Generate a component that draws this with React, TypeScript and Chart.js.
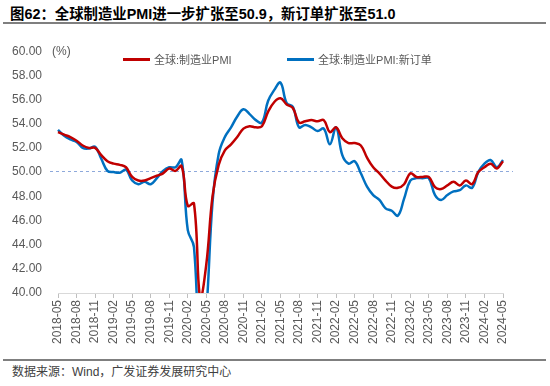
import React, { useEffect, useRef } from "react";
import { Chart, registerables } from "chart.js";

Chart.register(...registerables);

const months: string[] = [];
for (let y = 2018, m = 5; y < 2024 || (y === 2024 && m <= 5); ) {
  months.push(`${y}-${String(m).padStart(2, "0")}`);
  m++;
  if (m > 12) { m = 1; y++; }
}

const pmi = [
  53.3, 53.1, 52.9, 52.6, 52.2, 52.0, 52.0, 51.4, 50.9, 50.7, 50.6, 50.4,
  49.6, 49.3, 49.3, 49.5, 49.7, 49.9, 50.3, 50.1, 50.5,
  47.2, 47.4, 39.6, 42.4, 48.0, 50.6, 51.8, 52.3, 52.9, 53.6, 53.8,
  53.7, 53.8, 55.0, 55.8, 56.1, 55.6, 55.3, 54.1, 54.2, 54.3, 54.2, 54.3,
  53.3, 53.7, 52.8, 52.4, 52.4, 52.2, 51.2, 50.4, 49.9, 49.3, 48.8, 48.7,
  49.0, 49.9, 49.6, 49.6, 49.6, 48.75, 48.6, 48.9, 49.2, 48.9, 49.3, 49.0,
  50.0, 50.4, 50.7, 50.3, 50.9,
];

const newOrders = [
  53.5, 53.0, 52.7, 52.5, 52.0, 51.95, 52.1, 51.1, 50.1, 50.0, 49.95, 50.2,
  49.3, 49.0, 49.2, 49.0, 49.5, 50.1, 50.4, 50.4, 51.0,
  45.2, 43.8, 34.0, 38.5, 47.5, 51.5, 52.9, 53.7, 54.6, 55.2, 54.8,
  54.3, 54.1, 55.9, 56.8, 57.4, 55.7, 55.4, 53.7, 53.9, 53.7, 53.4, 53.6,
  52.3, 53.7, 51.4, 50.7, 50.9, 49.9, 48.8, 48.1, 47.7, 47.0, 46.8, 46.4,
  47.8, 49.3, 49.5, 49.5, 49.5, 48.1, 47.7, 48.1, 48.4, 48.5, 48.9, 48.7,
  50.0, 50.7, 51.0, 50.4, 51.0,
];

const seriesNames = ["全球:制造业PMI", "全球:制造业PMI:新订单"];
const seriesColors = ["#C00000", "#0070C0"];
const refValue = 50.1;
const yMin = 40;
const yMax = 60;
const yStep = 2;

const FONT = "'Liberation Sans', Arial, 'Noto Sans CJK SC', sans-serif";

const refLinePlugin = {
  id: "refLine",
  beforeDatasetsDraw(chart: any) {
    const { ctx, chartArea, scales } = chart;
    const y = scales.y.getPixelForValue(refValue);
    ctx.save();
    ctx.strokeStyle = "#8EA9DB";
    ctx.lineWidth = 1;
    ctx.setLineDash([3, 3]);
    ctx.beginPath();
    ctx.moveTo(chartArea.left - 8, Math.round(y) + 0.5);
    ctx.lineTo(chartArea.right + 10, Math.round(y) + 0.5);
    ctx.stroke();
    ctx.restore();
  },
};

export default function App() {
  const ref = useRef<HTMLCanvasElement | null>(null);
  useEffect(() => {
    if (!ref.current) return;
    const chart = new Chart(ref.current, {
      type: "line",
      data: {
        labels: months,
        datasets: [
          {
            label: seriesNames[0],
            data: pmi,
            borderColor: seriesColors[0],
            backgroundColor: seriesColors[0],
            borderWidth: 2.5,
            pointRadius: 0,
            tension: 0.4,
          },
          {
            label: seriesNames[1],
            data: newOrders,
            borderColor: seriesColors[1],
            backgroundColor: seriesColors[1],
            borderWidth: 2.5,
            pointRadius: 0,
            tension: 0.4,
          },
        ],
      },
      options: {
        responsive: false,
        animation: false,
        layout: { padding: { top: 10, right: 17, left: 0, bottom: 0 } },
        plugins: { legend: { display: false }, tooltip: { enabled: false } },
        scales: {
          x: {
            offset: false,
            border: { display: true, color: "#D9D9D9", width: 1 },
            grid: {
              display: true,
              drawOnChartArea: false,
              drawTicks: true,
              tickLength: 5,
              color: (c: any) => (c.index % 3 === 0 ? "#BFBFBF" : "rgba(0,0,0,0)"),
            },
            ticks: {
              autoSkip: false,
              minRotation: 90,
              maxRotation: 90,
              padding: 2,
              color: "#595959",
              font: { family: FONT, size: 12 },
              callback: (_v: any, i: number) => (i % 3 === 0 ? months[i] : ""),
            },
            afterFit: (s: any) => { s.height = 57; },
          },
          y: {
            min: yMin,
            max: yMax,
            border: { display: false },
            grid: { display: false, drawTicks: false },
            ticks: {
              stepSize: yStep,
              padding: 16,
              color: "#595959",
              font: { family: FONT, size: 12 },
              callback: (v: any) => Number(v).toFixed(2),
            },
            afterFit: (s: any) => { s.width = 58; },
          },
        },
      },
      plugins: [refLinePlugin],
    });
    return () => chart.destroy();
  }, []);

  const text = "'Liberation Sans', Arial, 'Noto Sans CJK SC', sans-serif";
  return (
    <div style={{ position: "absolute", left: 0, top: 0, width: 550, height: 386, background: "#fff", fontFamily: text, overflow: "hidden" }}>
      <canvas ref={ref} width={520} height={322} style={{ position: "absolute", left: 0, top: 28, width: 520, height: 322 }} />
      <div style={{ position: "absolute", left: 10, top: 5, fontSize: 14.4, fontWeight: "bold", color: "#000", whiteSpace: "nowrap", lineHeight: "18px" }}>
        图62：全球制造业PMI进一步扩张至50.9，新订单扩张至51.0
      </div>
      <div style={{ position: "absolute", left: 3, top: 22, width: 543, height: 2, background: "#7F7F7F" }} />
      <div style={{ position: "absolute", left: 52, top: 43, fontSize: 12, color: "#595959", whiteSpace: "nowrap", lineHeight: "16px" }}>(%)</div>
      <div style={{ position: "absolute", left: 123, top: 58, width: 27, height: 3, background: seriesColors[0] }} />
      <div style={{ position: "absolute", left: 154, top: 52, fontSize: 11, color: "#595959", whiteSpace: "nowrap", lineHeight: "16px" }}>{seriesNames[0]}</div>
      <div style={{ position: "absolute", left: 287, top: 58, width: 27, height: 3, background: seriesColors[1] }} />
      <div style={{ position: "absolute", left: 318, top: 52, fontSize: 11, color: "#595959", whiteSpace: "nowrap", lineHeight: "16px" }}>{seriesNames[1]}</div>
      <div style={{ position: "absolute", left: 3, top: 359, width: 543, height: 2, background: "#7F7F7F" }} />
      <div style={{ position: "absolute", left: 12, top: 364, fontSize: 12, color: "#404040", whiteSpace: "nowrap", lineHeight: "16px" }}>
        数据来源：Wind，广发证券发展研究中心
      </div>
    </div>
  );
}
